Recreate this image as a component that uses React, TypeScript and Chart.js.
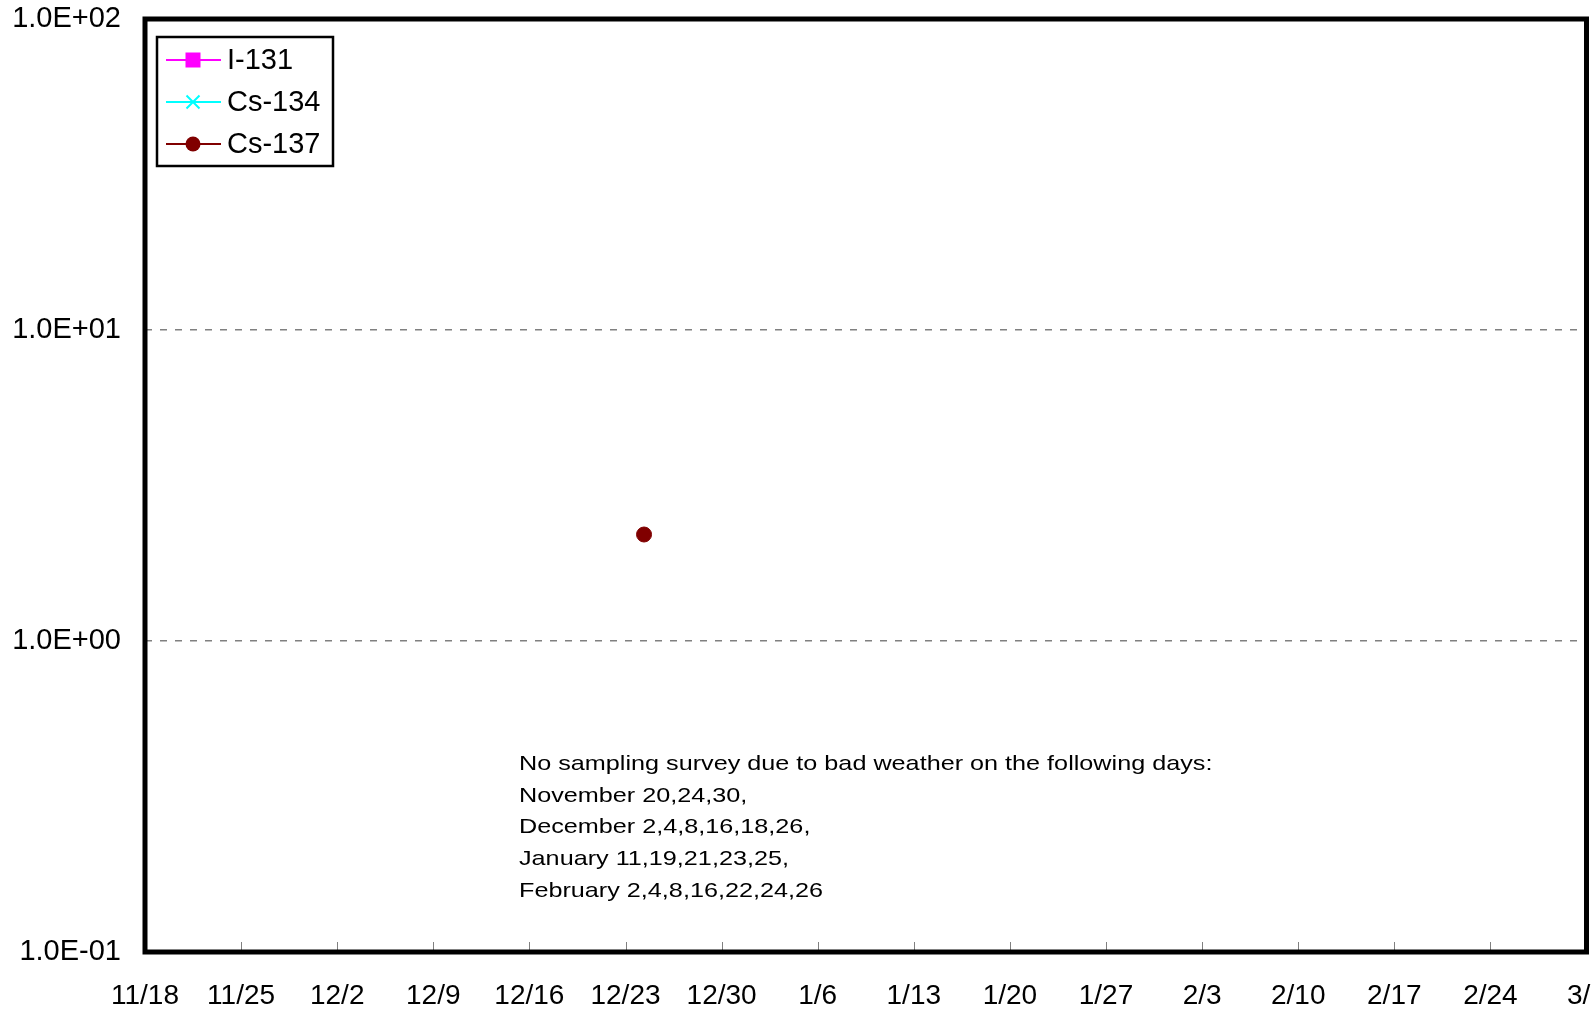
import React, { useEffect, useRef } from 'react';
import { Chart, registerables } from 'chart.js';

Chart.register(...registerables);

// x values are days after 11/18
const tickLabels = ['11/18', '11/25', '12/2', '12/9', '12/16', '12/23', '12/30', '1/6', '1/13', '1/20', '1/27', '2/3', '2/10', '2/17', '2/24', '3/2'];
const seriesNames = ['I-131', 'Cs-134', 'Cs-137'];
const i131Days: number[] = [];
const i131Values: number[] = [];
const cs134Days: number[] = [];
const cs134Values: number[] = [];
const cs137Days: number[] = [36.35];
const cs137Values: number[] = [2.2];
const yTickValues = [0.1, 1, 10, 100];
const noteLines = [
  'No sampling survey due to bad weather on the following days:',
  'November 20,24,30,',
  'December 2,4,8,16,18,26,',
  'January 11,19,21,23,25,',
  'February 2,4,8,16,22,24,26',
];

const FONT = '"Liberation Sans", Arial, sans-serif';

const toPoints = (xs: number[], ys: number[]) => xs.map((x, i) => ({ x, y: ys[i] }));

const fmtExp = (v: number) => {
  const e = Math.round(Math.log10(v));
  const m = (v / Math.pow(10, e)).toFixed(1);
  const sign = e < 0 ? '-' : '+';
  const a = Math.abs(e);
  return `${m}E${sign}${a < 10 ? '0' + a : a}`;
};

const decorPlugin = {
  id: 'decor',
  afterDraw(chart: any) {
    const { ctx, chartArea } = chart;
    const { left, top, right, bottom } = chartArea;
    const xs = chart.scales.x;
    ctx.save();
    // inner tick marks on x axis
    ctx.strokeStyle = '#808080';
    ctx.lineWidth = 1;
    xs.ticks.forEach((_t: any, i: number) => {
      const px = Math.round(xs.getPixelForTick(i)) + 0.5;
      ctx.beginPath();
      ctx.moveTo(px, bottom - 10);
      ctx.lineTo(px, bottom);
      ctx.stroke();
    });
    // frame
    ctx.strokeStyle = '#000';
    ctx.lineWidth = 5;
    ctx.strokeRect(left, top, right - left, bottom - top);

    // note text (horizontally stretched like the original)
    ctx.fillStyle = '#000';
    ctx.font = `21px ${FONT}`;
    ctx.textAlign = 'left';
    ctx.textBaseline = 'alphabetic';
    noteLines.forEach((line, i) => {
      ctx.save();
      ctx.translate(519, 770 + i * 31.7);
      ctx.scale(1.2, 1);
      ctx.fillText(line, 0, 0);
      ctx.restore();
    });

    // legend
    const bx = 157, by = 37, bw = 176, bh = 129;
    ctx.fillStyle = '#fff';
    ctx.fillRect(bx, by, bw, bh);
    ctx.strokeStyle = '#000';
    ctx.lineWidth = 2.5;
    ctx.strokeRect(bx, by, bw, bh);
    const rows = [60, 102, 144];
    chart.data.datasets.forEach((ds: any, i: number) => {
      const y = rows[i];
      ctx.strokeStyle = ds.borderColor;
      ctx.lineWidth = 2;
      ctx.beginPath();
      ctx.moveTo(166, y);
      ctx.lineTo(221, y);
      ctx.stroke();
      const cx = 193;
      ctx.fillStyle = ds.pointBackgroundColor;
      if (ds.pointStyle === 'rect') {
        ctx.fillRect(cx - 7.5, y - 7.5, 15, 15);
      } else if (ds.pointStyle === 'crossRot') {
        ctx.lineWidth = 2;
        ctx.beginPath();
        ctx.moveTo(cx - 6.5, y - 6.5);
        ctx.lineTo(cx + 6.5, y + 6.5);
        ctx.moveTo(cx + 6.5, y - 6.5);
        ctx.lineTo(cx - 6.5, y + 6.5);
        ctx.stroke();
      } else {
        ctx.beginPath();
        ctx.arc(cx, y, 7.5, 0, Math.PI * 2);
        ctx.fill();
      }
      ctx.fillStyle = '#000';
      ctx.font = `29px ${FONT}`;
      ctx.textBaseline = 'middle';
      ctx.fillText(ds.label, 227, y + 1);
    });
    ctx.restore();
  },
};

export default function App() {
  const ref = useRef<HTMLCanvasElement | null>(null);
  useEffect(() => {
    if (!ref.current) return;
    const chart = new Chart(ref.current, {
      type: 'line',
      data: {
        datasets: [
          {
            label: seriesNames[0],
            data: toPoints(i131Days, i131Values),
            borderColor: '#FF00FF',
            backgroundColor: '#FF00FF',
            pointBackgroundColor: '#FF00FF',
            pointBorderColor: '#FF00FF',
            pointStyle: 'rect',
            pointRadius: 8,
            borderWidth: 2,
          },
          {
            label: seriesNames[1],
            data: toPoints(cs134Days, cs134Values),
            borderColor: '#00FFFF',
            backgroundColor: '#00FFFF',
            pointBackgroundColor: '#00FFFF',
            pointBorderColor: '#00FFFF',
            pointStyle: 'crossRot',
            pointRadius: 7,
            borderWidth: 2,
          },
          {
            label: seriesNames[2],
            data: toPoints(cs137Days, cs137Values),
            borderColor: '#800000',
            backgroundColor: '#800000',
            pointBackgroundColor: '#800000',
            pointBorderColor: '#800000',
            pointStyle: 'circle',
            pointRadius: 7.5,
            pointBorderWidth: 1,
            borderWidth: 2,
          },
        ] as any,
      },
      options: {
        animation: false,
        responsive: false,
        devicePixelRatio: 1,
        layout: { padding: { top: 19, right: 0, left: 0, bottom: 0 } },
        plugins: { legend: { display: false }, tooltip: { enabled: false } },
        scales: {
          x: {
            type: 'linear',
            min: 0,
            max: (tickLabels.length - 1) * 7,
            grid: { display: false, drawTicks: false },
            border: { display: false },
            ticks: {
              stepSize: 7,
              autoSkip: false,
              maxRotation: 0,
              padding: 27,
              color: '#000',
              font: { family: FONT, size: 28 },
              callback: (v: any) => tickLabels[Math.round(Number(v) / 7)] ?? '',
            },
            afterFit: (s: any) => {
              s.height = 59;
              s.paddingLeft = 0;
              s.paddingRight = 0;
            },
          },
          y: {
            type: 'logarithmic',
            min: 0.1,
            max: 100,
            grid: {
              drawTicks: false,
              color: (c: any) => (c.tick && (c.tick.value === 1 || c.tick.value === 10) ? '#808080' : 'rgba(0,0,0,0)'),
              lineWidth: 1.5,
            },
            border: { display: false, dash: [7, 8] },
            afterBuildTicks: (s: any) => {
              s.ticks = yTickValues.map((v) => ({ value: v }));
            },
            ticks: {
              padding: 24,
              color: '#000',
              font: { family: FONT, size: 29 },
              callback: (v: any) => fmtExp(Number(v)),
            },
            afterFit: (s: any) => {
              s.width = 145;
              s.paddingTop = 0;
              s.paddingBottom = 0;
            },
          },
        },
      },
      plugins: [decorPlugin],
    });
    return () => chart.destroy();
  }, []);
  return (
    <div style={{ position: 'fixed', left: 0, top: 0, width: 1591, height: 1011, overflow: 'hidden', background: '#fff' }}>
      <canvas ref={ref} width={1595} height={1011} style={{ display: 'block' }} />
    </div>
  );
}
